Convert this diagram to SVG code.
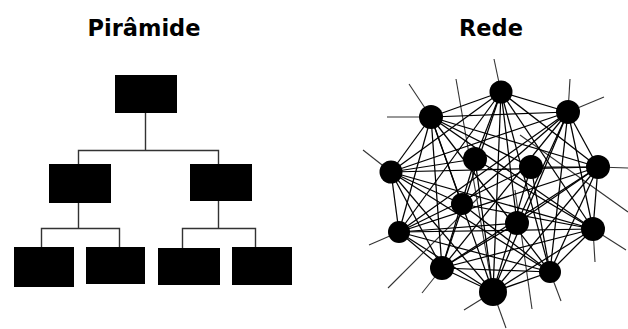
<svg xmlns="http://www.w3.org/2000/svg" width="628" height="329" viewBox="0 0 628 329">
<style>
.title{font-family:"DejaVu Sans","Verdana",sans-serif;font-weight:bold;font-size:22.5px;fill:#000;text-anchor:middle}
.box{fill:#000}
.tree{stroke:#333;stroke-width:1.4;fill:none}
.net{stroke:#000;stroke-width:1.25;fill:none}
.spoke{stroke:#333;stroke-width:1.1;fill:none}
.dot{fill:#000}
</style>
<rect width="628" height="329" fill="#fff"/>
<text class="title" x="144" y="36">Pirâmide</text>
<text class="title" x="491" y="36">Rede</text>

<g id="tree-connectors" class="tree">
<path d="M145.5 113V150.5M78.5 164V150.5H218.5V164"/>
<path d="M78.5 203V228.5M41.5 247V228.5H119.5V247"/>
<path d="M218.5 201V228.5M182.5 248V228.5H255.5V247"/>
</g>
<g id="p-top"><rect class="box" x="115" y="75" width="62" height="38"/></g>
<g id="p-mid-left"><rect class="box" x="49" y="164" width="62" height="39"/></g>
<g id="p-mid-right"><rect class="box" x="190" y="164" width="62" height="37"/></g>
<g id="p-bot-1"><rect class="box" x="14" y="247" width="60" height="40"/></g>
<g id="p-bot-2"><rect class="box" x="86" y="247" width="59" height="37"/></g>
<g id="p-bot-3"><rect class="box" x="158" y="248" width="62" height="37"/></g>
<g id="p-bot-4"><rect class="box" x="232" y="247" width="60" height="38"/></g>

<g id="net-connectors">
<g class="spoke">
<line x1="501" y1="92" x2="494" y2="59"/>
<line x1="431" y1="117" x2="409" y2="84"/>
<line x1="431" y1="117" x2="387" y2="117"/>
<line x1="456" y1="79" x2="493" y2="292"/>
<line x1="568" y1="112" x2="570" y2="79"/>
<line x1="568" y1="112" x2="604" y2="97"/>
<line x1="391" y1="172" x2="363" y2="150"/>
<line x1="598" y1="167" x2="628" y2="168"/>
<line x1="520" y1="135" x2="628" y2="212"/>
<line x1="593" y1="229" x2="626" y2="250"/>
<line x1="593" y1="229" x2="595" y2="262"/>
<line x1="399" y1="232" x2="369" y2="245"/>
<line x1="480" y1="196" x2="388" y2="288"/>
<line x1="442" y1="268" x2="422" y2="293"/>
<line x1="493" y1="292" x2="464" y2="310"/>
<line x1="493" y1="292" x2="506" y2="328"/>
<line x1="550" y1="272" x2="561" y2="301"/>
<line x1="515" y1="190" x2="532" y2="309"/>
</g>
<g class="net">
<line x1="501" y1="92" x2="431" y2="117"/>
<line x1="501" y1="92" x2="568" y2="112"/>
<line x1="501" y1="92" x2="391" y2="172"/>
<line x1="501" y1="92" x2="598" y2="167"/>
<line x1="501" y1="92" x2="399" y2="232"/>
<line x1="501" y1="92" x2="593" y2="229"/>
<line x1="501" y1="92" x2="442" y2="268"/>
<line x1="501" y1="92" x2="550" y2="272"/>
<line x1="501" y1="92" x2="493" y2="292"/>
<line x1="431" y1="117" x2="568" y2="112"/>
<line x1="431" y1="117" x2="391" y2="172"/>
<line x1="431" y1="117" x2="598" y2="167"/>
<line x1="431" y1="117" x2="399" y2="232"/>
<line x1="431" y1="117" x2="593" y2="229"/>
<line x1="431" y1="117" x2="442" y2="268"/>
<line x1="431" y1="117" x2="550" y2="272"/>
<line x1="431" y1="117" x2="493" y2="292"/>
<line x1="568" y1="112" x2="391" y2="172"/>
<line x1="568" y1="112" x2="598" y2="167"/>
<line x1="568" y1="112" x2="399" y2="232"/>
<line x1="568" y1="112" x2="593" y2="229"/>
<line x1="568" y1="112" x2="442" y2="268"/>
<line x1="568" y1="112" x2="550" y2="272"/>
<line x1="568" y1="112" x2="493" y2="292"/>
<line x1="391" y1="172" x2="598" y2="167"/>
<line x1="391" y1="172" x2="399" y2="232"/>
<line x1="391" y1="172" x2="593" y2="229"/>
<line x1="391" y1="172" x2="442" y2="268"/>
<line x1="391" y1="172" x2="550" y2="272"/>
<line x1="391" y1="172" x2="493" y2="292"/>
<line x1="598" y1="167" x2="399" y2="232"/>
<line x1="598" y1="167" x2="593" y2="229"/>
<line x1="598" y1="167" x2="442" y2="268"/>
<line x1="598" y1="167" x2="550" y2="272"/>
<line x1="598" y1="167" x2="493" y2="292"/>
<line x1="399" y1="232" x2="593" y2="229"/>
<line x1="399" y1="232" x2="442" y2="268"/>
<line x1="399" y1="232" x2="550" y2="272"/>
<line x1="399" y1="232" x2="493" y2="292"/>
<line x1="593" y1="229" x2="442" y2="268"/>
<line x1="593" y1="229" x2="550" y2="272"/>
<line x1="593" y1="229" x2="493" y2="292"/>
<line x1="442" y1="268" x2="550" y2="272"/>
<line x1="442" y1="268" x2="493" y2="292"/>
<line x1="550" y1="272" x2="493" y2="292"/>
<line x1="475" y1="159" x2="501" y2="92"/>
<line x1="475" y1="159" x2="391" y2="172"/>
<line x1="475" y1="159" x2="593" y2="229"/>
<line x1="475" y1="159" x2="493" y2="292"/>
<line x1="475" y1="159" x2="442" y2="268"/>
<line x1="531" y1="167" x2="431" y2="117"/>
<line x1="531" y1="167" x2="598" y2="167"/>
<line x1="531" y1="167" x2="399" y2="232"/>
<line x1="531" y1="167" x2="550" y2="272"/>
<line x1="531" y1="167" x2="493" y2="292"/>
<line x1="462" y1="204" x2="568" y2="112"/>
<line x1="462" y1="204" x2="391" y2="172"/>
<line x1="462" y1="204" x2="593" y2="229"/>
<line x1="462" y1="204" x2="431" y2="117"/>
<line x1="462" y1="204" x2="550" y2="272"/>
<line x1="517" y1="223" x2="501" y2="92"/>
<line x1="517" y1="223" x2="399" y2="232"/>
<line x1="517" y1="223" x2="598" y2="167"/>
<line x1="517" y1="223" x2="442" y2="268"/>
<line x1="517" y1="223" x2="568" y2="112"/>
</g>
</g>

<g id="n-top"><circle class="dot" cx="501" cy="92" r="11.5"/></g>
<g id="n-upper-left"><circle class="dot" cx="431" cy="117" r="12"/></g>
<g id="n-upper-right"><circle class="dot" cx="568" cy="112" r="12"/></g>
<g id="n-left"><circle class="dot" cx="391" cy="172" r="11.5"/></g>
<g id="n-right"><circle class="dot" cx="598" cy="167" r="12"/></g>
<g id="n-inner-1"><circle class="dot" cx="475" cy="159" r="12"/></g>
<g id="n-inner-2"><circle class="dot" cx="531" cy="167" r="12"/></g>
<g id="n-inner-3"><circle class="dot" cx="462" cy="204" r="11"/></g>
<g id="n-inner-4"><circle class="dot" cx="517" cy="223" r="12"/></g>
<g id="n-lower-left"><circle class="dot" cx="399" cy="232" r="11"/></g>
<g id="n-lower-right"><circle class="dot" cx="593" cy="229" r="12"/></g>
<g id="n-bottom-left"><circle class="dot" cx="442" cy="268" r="12"/></g>
<g id="n-bottom-right"><circle class="dot" cx="550" cy="272" r="11"/></g>
<g id="n-bottom"><circle class="dot" cx="493" cy="292" r="14"/></g>
</svg>
